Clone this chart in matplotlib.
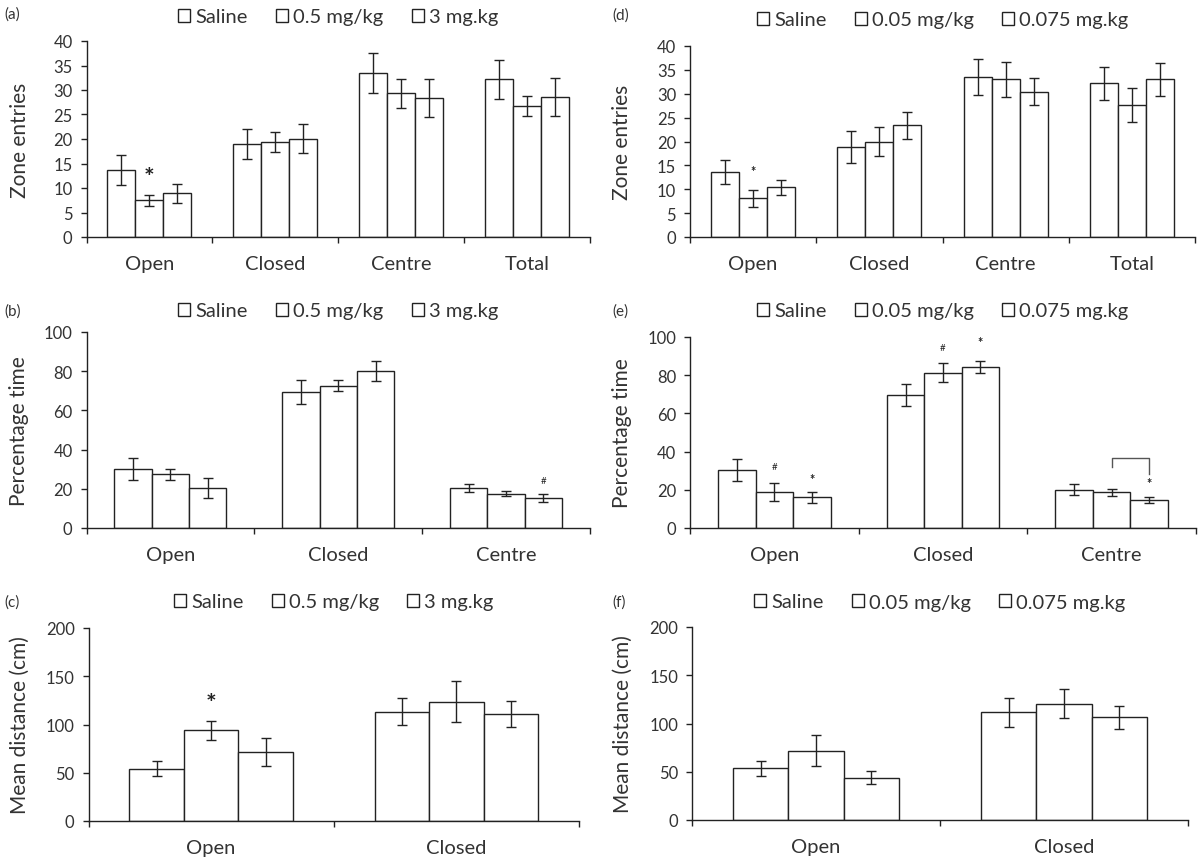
import matplotlib
matplotlib.use('Agg')
import matplotlib.pyplot as plt
from matplotlib.patches import Patch
import numpy as np

plt.rcParams['font.family'] = ['Lato', 'DejaVu Sans']
txt = '#333333'
ink = '#222222'

# ---------- data ----------
labels_left = ['Saline', '0.5 mg/kg', '3 mg.kg']
labels_right = ['Saline', '0.05 mg/kg', '0.075 mg.kg']

cats4 = ['Open', 'Closed', 'Centre', 'Total']
cats3 = ['Open', 'Closed', 'Centre']
cats2 = ['Open', 'Closed']

# (a) zone entries
a_mean = [[13.7, 19.0, 33.5, 32.2], [7.5, 19.4, 29.3, 26.7], [8.9, 20.1, 28.4, 28.6]]
a_err = [[3.0, 3.0, 4.1, 4.0], [1.1, 2.1, 2.9, 2.0], [2.0, 3.0, 3.9, 3.9]]
# (d) zone entries
d_mean = [[13.7, 18.8, 33.5, 32.2], [8.1, 20.0, 33.0, 27.6], [10.4, 23.4, 30.4, 33.0]]
d_err = [[2.5, 3.3, 3.7, 3.5], [1.8, 3.0, 3.6, 3.6], [1.6, 2.8, 2.8, 3.5]]
# (b) percentage time
b_mean = [[30.2, 69.3, 20.3], [27.3, 72.7, 17.4], [20.3, 80.1, 15.2]]
b_err = [[5.5, 6.0, 2.0], [3.0, 3.0, 1.3], [5.0, 5.0, 2.0]]
# (e) percentage time
e_mean = [[30.3, 69.5, 20.0], [18.6, 81.4, 18.6], [16.2, 84.1, 14.6]]
e_err = [[5.9, 5.8, 2.8], [4.7, 5.0, 1.7], [2.9, 3.2, 1.5]]
# (c) mean distance
c_mean = [[54.4, 113.3], [93.9, 123.7], [71.8, 110.9]]
c_err = [[8.0, 14.0], [10.0, 21.0], [14.5, 13.0]]
# (f) mean distance
f_mean = [[53.4, 111.6], [71.8, 120.3], [44.0, 106.4]]
f_err = [[8.0, 15.0], [16.0, 15.0], [7.0, 12.0]]

# significance marks: (category, group, y, text, size, bold)
a_marks = [(0, 1, 12.2, '*', 18, True)]
d_marks = [(0, 1, 13.8, '*', 9, True)]
b_marks = [(2, 2, 24.2, '#', 7, False)]
e_marks = [(0, 1, 32.0, '#', 7, False), (0, 2, 25.6, '*', 9, True),
           (1, 1, 94.5, '#', 7, False), (1, 2, 97.5, '*', 9, True),
           (2, 2, 23.5, '*', 9, True)]
c_marks = [(0, 1, 122, '*', 18, True)]
# bracket in (e): category, from group, to group, top y, left foot, right foot
e_bracket = (2, 1, 2, 36.4, 32.0, 28.5)

W, H = 1198, 862
fig = plt.figure(figsize=(W / 100, H / 100), dpi=100)
fig.patch.set_facecolor('white')

bw = 1 / 4.5


def panel(box, cats, means, errs, labels, ymax, ystep, ylabel, tag, tagpos, leg_off,
          ylab_x, marks=()):
    x0, x1, ytop, ybot = box
    ax = fig.add_axes([x0 / W, 1 - ybot / H, (x1 - x0) / W, (ybot - ytop) / H])
    n = len(cats)
    x = np.arange(n)
    for g in range(3):
        xs = x + (g - 1) * bw
        ax.bar(xs, means[g], bw, facecolor='white', edgecolor=ink, linewidth=1.0, zorder=2)
        ax.errorbar(xs, means[g], yerr=errs[g], fmt='none', ecolor=ink,
                    elinewidth=1.0, capsize=3.5, capthick=1.0, zorder=3)
    for ci, g, y, s, fs, bold in marks:
        ax.text(ci + (g - 1) * bw, y, s, ha='center', va='center', fontsize=fs,
                fontweight='bold' if bold else 'normal', color=ink, zorder=4)
    ax.set_xlim(-0.5, n - 0.5)
    ax.set_ylim(0, ymax)
    ax.set_yticks(np.arange(0, ymax + 0.1, ystep))
    ax.set_xticks(x)
    ax.set_xticklabels(cats, fontsize=14.5, color=txt)
    ax.set_xticks(np.arange(n + 1) - 0.5, minor=True)
    ax.tick_params(axis='x', which='major', length=0, pad=13)
    ax.tick_params(axis='x', which='minor', length=4, width=1.0, color=ink, direction='out')
    ax.tick_params(axis='y', length=4, width=1.0, color=ink, labelsize=12,
                   labelcolor=txt, pad=6)
    for s in ['top', 'right']:
        ax.spines[s].set_visible(False)
    for s in ['left', 'bottom']:
        ax.spines[s].set_color(ink)
        ax.spines[s].set_linewidth(1.0)
    ax.set_ylabel(ylabel, fontsize=15, color=txt)
    ax.yaxis.set_label_coords((ylab_x - x0) / (x1 - x0), 0.5)
    handles = [Patch(facecolor='white', edgecolor=ink, linewidth=1.0, label=l) for l in labels]
    ax.legend(handles=handles, loc='center', bbox_to_anchor=(0.5, 1 + leg_off),
              ncol=3, frameon=False, fontsize=14.5, handlelength=0.6, handleheight=0.6,
              handletextpad=0.25, columnspacing=1.4, labelcolor=txt, borderaxespad=0)
    fig.text(tagpos[0] / W, 1 - tagpos[1] / H, tag, fontsize=11, color=txt,
             ha='left', va='center')
    return ax


axa = panel((86.5, 590, 42, 238), cats4, a_mean, a_err, labels_left, 40, 5,
            'Zone entries', '(a)', (4, 15), 24 / 196, 30, a_marks)
axd = panel((690, 1195, 47, 238), cats4, d_mean, d_err, labels_right, 40, 5,
            'Zone entries', '(d)', (612, 16), 26 / 191, 632, d_marks)
axb = panel((86.5, 590, 333, 529), cats3, b_mean, b_err, labels_left, 100, 20,
            'Percentage time', '(b)', (4, 312), 21 / 196, 29, b_marks)
axe = panel((690, 1196, 338, 529), cats3, e_mean, e_err, labels_right, 100, 20,
            'Percentage time', '(e)', (612, 312), 26 / 191, 632, e_marks)
axc = panel((88.5, 579, 629, 822), cats2, c_mean, c_err, labels_left, 200, 50,
            'Mean distance (cm)', '(c)', (4, 603), 26 / 193, 30, c_marks)
axf = panel((692, 1188, 628, 821), cats2, f_mean, f_err, labels_right, 200, 50,
            'Mean distance (cm)', '(f)', (612, 603), 25 / 193, 633)

ci, g0, g1, ytop, yl, yr = e_bracket
xl = ci + (g0 - 1) * bw
xr = ci + (g1 - 1) * bw
axe.plot([xl, xl, xr, xr], [yl, ytop, ytop, yr], color='#555555', lw=1.0, zorder=4)

plt.savefig('out.png', dpi=100)
